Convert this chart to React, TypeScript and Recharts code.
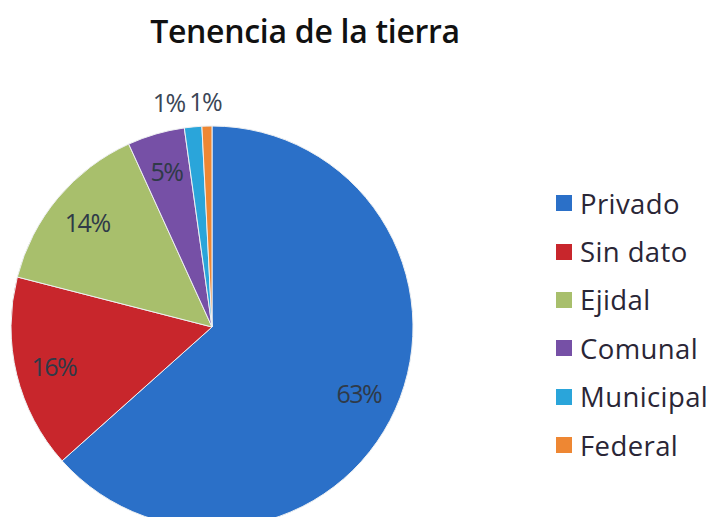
import { PieChart, Pie, Cell, Legend } from 'recharts'

const categories = ['Privado', 'Sin dato', 'Ejidal', 'Comunal', 'Municipal', 'Federal']
const shares = [63.4, 15.6, 14.2, 4.6, 1.4, 0.8]
const colors = ['#2b70c8', '#c8262c', '#a8bf6c', '#7650a6', '#2aa5da', '#ee8733']

const data = categories.map((name, i) => ({ name, value: shares[i] }))

const FONT = '"Open Sans", Lato, sans-serif'
const RAD = Math.PI / 180

function renderLabel(props: any) {
  const { cx, cy, midAngle, outerRadius, percent, index } = props
  const pct = `${Math.round(percent * 100)}%`
  const small = percent < 0.03
  if (small) {
    const r = outerRadius + 25
    const x = cx + r * Math.cos(-midAngle * RAD)
    const y = cy + r * Math.sin(-midAngle * RAD)
    const last = index === data.length - 1
    return (
      <text x={last ? x - 17 : x - 6} y={y} fill="#3b4656" fontSize={25} fontFamily={FONT}
        textAnchor={last ? 'start' : 'end'} dominantBaseline="central" letterSpacing={-1.5}>
        {pct}
      </text>
    )
  }
  const r = outerRadius * (percent > 0.5 ? 0.8 : 0.81)
  const x = cx + r * Math.cos(-midAngle * RAD)
  const y = cy + r * Math.sin(-midAngle * RAD)
  return (
    <text x={x} y={y} fill="#2f3a48" fontSize={25} fontFamily={FONT}
      textAnchor="middle" dominantBaseline="central" letterSpacing={-1.5}>
      {pct}
    </text>
  )
}

function LegendList() {
  return (
    <div style={{ fontFamily: FONT, fontSize: 27.5, color: '#2a2636', letterSpacing: 0.4 }}>
      {categories.map((name, i) => (
        <div key={name} style={{ display: 'flex', alignItems: 'center', height: 48.4 }}>
          <span style={{ width: 16, height: 16, background: colors[i], marginRight: 8, display: 'inline-block' }} />
          <span>{name}</span>
        </div>
      ))}
    </div>
  )
}

export default function App() {
  return (
    <div style={{ position: 'absolute', left: 0, top: 0, width: 713, height: 517, background: '#fff', overflow: 'hidden' }}>
      <div style={{ position: 'absolute', left: 0, top: 9, width: 610, textAlign: 'center', fontFamily: FONT, fontWeight: 600, fontSize: 32, color: '#111', letterSpacing: -0.3 }}>
        Tenencia de la tierra
      </div>
      <PieChart width={713} height={517}>
        <Pie
          data={data}
          dataKey="value"
          nameKey="name"
          cx={207}
          cy={322}
          outerRadius={201}
          startAngle={90}
          endAngle={-270}
          stroke="#eef0f2"
          strokeWidth={1}
          label={renderLabel}
          labelLine={false}
          isAnimationActive={false}
        >
          {data.map((d, i) => <Cell key={d.name} fill={colors[i]} />)}
        </Pie>
        <Legend
          layout="vertical"
          content={<LegendList />}
          wrapperStyle={{ position: 'absolute', left: 556, top: 179, width: 157 }}
        />
      </PieChart>
    </div>
  )
}
